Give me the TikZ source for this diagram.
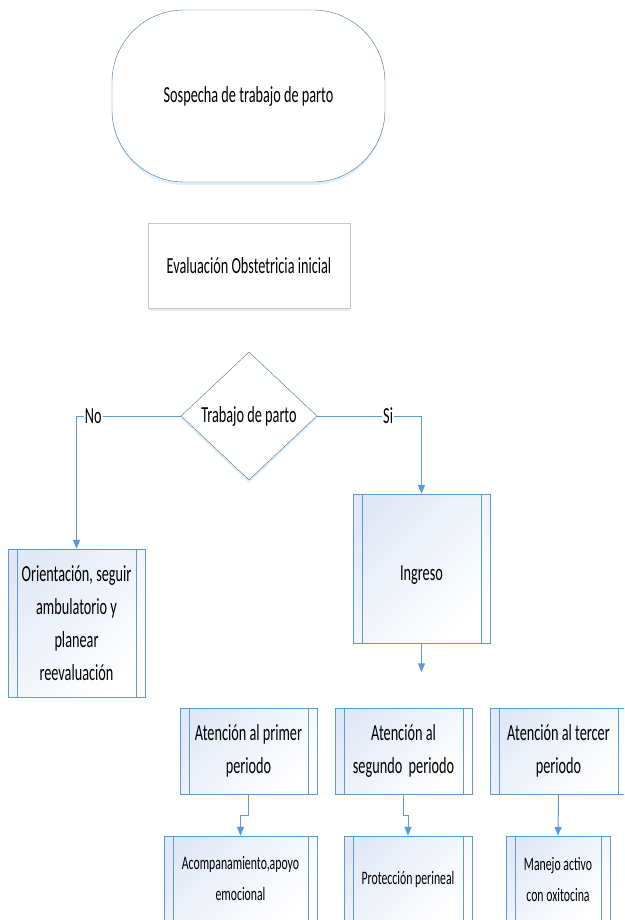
\documentclass[tikz,border=0pt]{standalone}
\usepackage{fontspec}
\setmainfont{Carlito}[FakeStretch=0.62]
\usetikzlibrary{arrows,shapes,shadows,calc,positioning}

\definecolor{lineblue}{RGB}{91,155,213}
\definecolor{edgeblue}{RGB}{65,113,156}
\definecolor{shadeblue}{RGB}{226,233,246}

\tikzset{
  flowline/.style={draw=lineblue, line width=1pt},
  arrowline/.style={flowline, -triangle 45},
  softshadow/.style={drop shadow={shadow xshift=0pt, shadow yshift=-3pt, fill=lineblue!50, opacity=0.35}},
  startbox/.style={draw=edgeblue, fill=white, rounded corners=72pt, minimum width=273pt, minimum height=172pt, softshadow},
  evalbox/.style={draw=black!22, fill=white, minimum width=202pt, minimum height=85pt, softshadow},
  decision/.style={diamond, draw=edgeblue, fill=white, inner sep=0pt, minimum width=136pt, minimum height=128pt, softshadow},
  procbox/.style={draw=lineblue, line width=0.8pt, top color=shadeblue, bottom color=white, shading angle=45,
    align=flush center, inner sep=2pt,
    path picture={
      \draw[lineblue, line width=0.8pt] ($(path picture bounding box.north west)+(9pt,0)$) -- ($(path picture bounding box.south west)+(9pt,0)$);
      \draw[lineblue, line width=0.8pt] ($(path picture bounding box.north east)+(-9pt,0)$) -- ($(path picture bounding box.south east)+(-9pt,0)$);
    }},
  bigtext/.style={font=\fontsize{23}{33}\selectfont},
  smalltext/.style={font=\fontsize{19}{31}\selectfont},
}

\begin{document}
\begin{tikzpicture}[x=1pt, y=-1pt]
\path[use as bounding box, clip] (0,0) rectangle (624,920);

% top of the chart
\node[startbox, bigtext] (start) at (248.5,96) {Sospecha de trabajo de parto};
\node[evalbox, bigtext] (eval) at (249,265.5) {Evaluación Obstetricia inicial};
\node[decision, bigtext] (dec) at (249,416) {Trabajo de parto};

% the two branches
\node[procbox, bigtext, minimum width=137pt, minimum height=148pt, text width=118pt] (orient) at (76.5,623) {Orientación, seguir ambulatorio y planear reevaluación};
\node[procbox, bigtext, minimum width=137pt, minimum height=149pt, text height=27pt, text depth=4pt] (ingreso) at (421.5,568.5) {Ingreso};
\coordinate (ingout) at (421.5,672);

\draw[arrowline] (dec.west) -| node[pos=0.42, fill=white, inner sep=1pt, bigtext] {No} (orient.north);
\draw[arrowline] (dec.east) -| node[pos=0.34, fill=white, inner sep=1pt, bigtext] {Si} (ingreso.north);
\draw[arrowline] (ingreso.south) -- (ingout);

% periods
\node[procbox, bigtext, minimum width=137pt, minimum height=86pt, text width=118pt] (p1) at (248.5,751) {Atención al primer periodo};
\node[procbox, bigtext, minimum width=137pt, minimum height=86pt, text width=118pt] (p2) at (403.5,751) {Atención al\\segundo\ \ periodo};
\node[procbox, bigtext, minimum width=137pt, minimum height=86pt, text width=118pt] (p3) at (558.5,751) {Atención al tercer periodo};

\node[procbox, smalltext, minimum width=153pt, minimum height=86pt, text width=134pt] (a1) at (240.5,879) {Acompanamiento,apoyo emocional};
\node[procbox, smalltext, minimum width=128pt, minimum height=86pt, text width=110pt] (a2) at (408,879) {Protección perineal};
\node[procbox, smalltext, minimum width=104pt, minimum height=86pt, text width=86pt] (a3) at (558,879) {Manejo activo con oxitocina};

\draw[arrowline] (p1.south) -- ++(0,21) -| (a1.north);
\draw[arrowline] (p2.south) -- ++(0,21) -| (a2.north);
\draw[arrowline] (p3.south) -- (a3.north);
\end{tikzpicture}
\end{document}
